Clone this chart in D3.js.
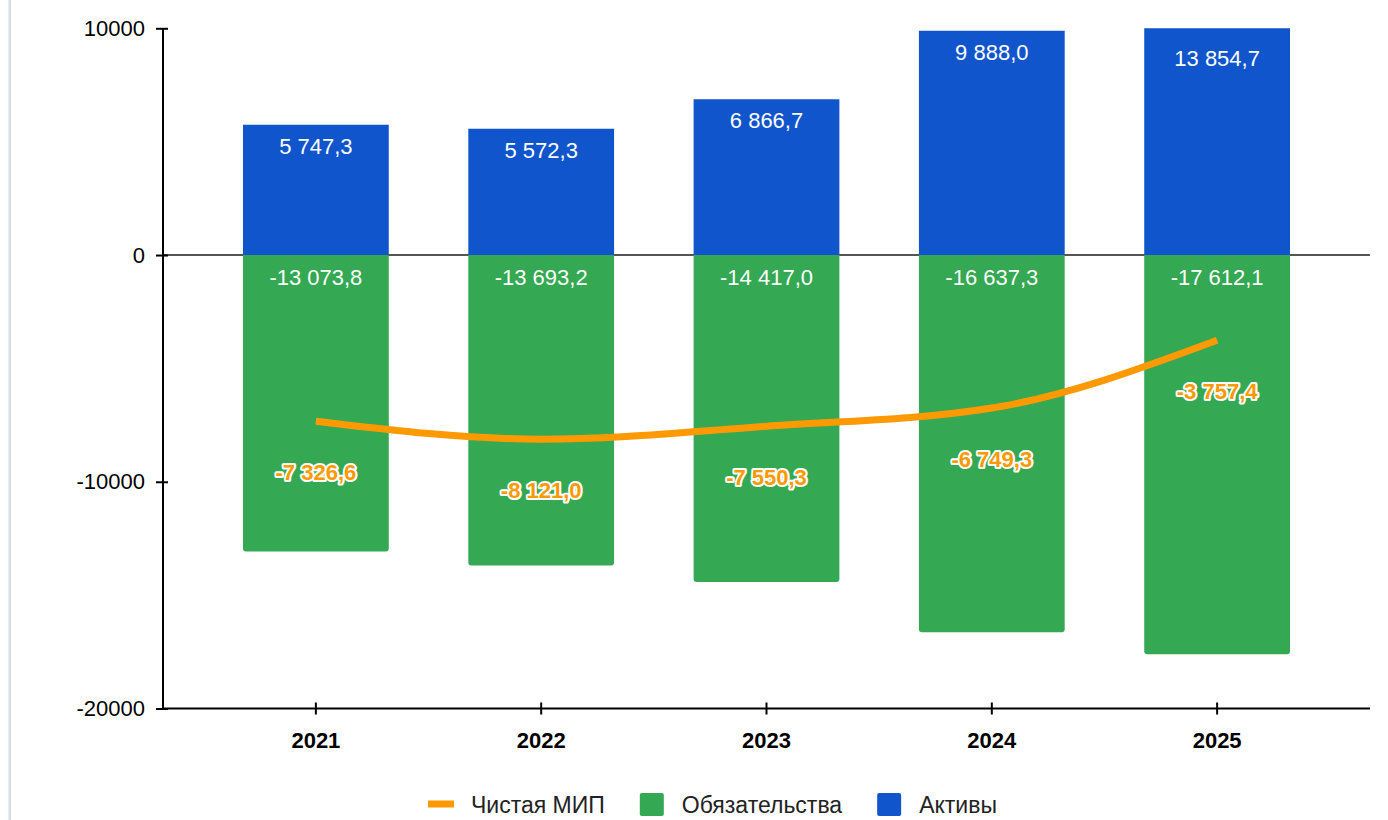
<!DOCTYPE html>
<html>
<head>
<meta charset="utf-8">
<script src="https://cdn.jsdelivr.net/npm/d3@7"></script>
<style>
  body { margin: 0; background: #fff; }
  svg text { font-family: Arial, "Liberation Sans", sans-serif; }
</style>
</head>
<body>
<div id="chart"></div>
<script>
//chart data
const years = ['2021', '2022', '2023', '2024', '2025'];
const assets = [5747.3, 5572.3, 6866.7, 9888.0, 13854.7];
const liabilities = [-13073.8, -13693.2, -14417.0, -16637.3, -17612.1];
const netMip = [-7326.6, -8121.0, -7550.3, -6749.3, -3757.4];
const yTicks = [-20000, -10000, 0, 10000];
const legendNames = ['Чистая МИП', 'Обязательства', 'Активы'];

//static svg variables
var svgWidth = 1388;
var svgHeight = 820;
var colors = { assets: '#1155cc', liab: '#34a853', net: '#ff9900' };

var svg = d3.select('#chart')
  .append('svg')
  .attr('width', svgWidth)
  .attr('height', svgHeight);

//thin page border on the left
svg.append('rect')
  .attr('x', 8.5).attr('y', 0)
  .attr('width', 2.5).attr('height', svgHeight)
  .attr('fill', '#d3dce8');

//russian number format: "5 747,3"
var ru = d3.formatLocale({ decimal: ',', thousands: '\u00a0', grouping: [3], currency: ['', ''], minus: '-' });
var fmt = ru.format(',.1f');

//scales
var x = d3.scaleBand()
  .domain(years)
  .range([163, 1370])
  .paddingInner(0.353)
  .paddingOuter(0.355);

var y = d3.scaleLinear()
  .domain([-20000, 10000])
  .range([708.5, 28.3])
  .clamp(true);

//zero line
svg.append('line')
  .attr('x1', 163).attr('x2', 1370)
  .attr('y1', y(0)).attr('y2', y(0))
  .attr('stroke', '#555')
  .attr('stroke-width', 2);

//bar path with rounded bottom corners for negative bars
function barPath(x0, w, v) {
  let top = y(Math.max(v, 0));
  let bot = y(Math.min(v, 0));
  if (v >= 0) {
    return `M${x0},${bot}V${top}H${x0 + w}V${bot}Z`;
  }
  let r = 3;
  return `M${x0},${top}V${bot - r}Q${x0},${bot} ${x0 + r},${bot}H${x0 + w - r}Q${x0 + w},${bot} ${x0 + w},${bot - r}V${top}Z`;
}

var barGroup = svg.append('g');

barGroup.selectAll('path.liab')
  .data(liabilities)
  .enter()
  .append('path')
  .attr('class', 'liab')
  .attr('d', (d, i) => barPath(x(years[i]), x.bandwidth(), d))
  .attr('fill', colors.liab);

barGroup.selectAll('path.assets')
  .data(assets)
  .enter()
  .append('path')
  .attr('class', 'assets')
  .attr('d', (d, i) => barPath(x(years[i]), x.bandwidth(), d))
  .attr('fill', colors.assets);

//bar labels
svg.selectAll('text.assetLabel')
  .data(assets)
  .enter()
  .append('text')
  .attr('class', 'assetLabel')
  .attr('x', (d, i) => x(years[i]) + x.bandwidth() / 2)
  .attr('y', d => y(d) + (d > y.domain()[1] ? 38 : 29))
  .attr('text-anchor', 'middle')
  .attr('font-size', 22)
  .attr('fill', '#fff')
  .text(d => fmt(d));

svg.selectAll('text.liabLabel')
  .data(liabilities)
  .enter()
  .append('text')
  .attr('class', 'liabLabel')
  .attr('x', (d, i) => x(years[i]) + x.bandwidth() / 2)
  .attr('y', y(0) + 30)
  .attr('text-anchor', 'middle')
  .attr('font-size', 22)
  .attr('fill', '#fff')
  .text(d => fmt(d));

//axes
var yAxis = d3.axisLeft(y).tickValues(yTicks).tickFormat(d => String(d)).tickSize(7).tickPadding(12);
var yG = svg.append('g')
  .attr('transform', 'translate(163,0)')
  .call(yAxis);
yG.select('.domain').attr('stroke', '#000').attr('stroke-width', 2).attr('d', `M0,${y(10000)}V${y(-20000)}`);
yG.selectAll('.tick line').attr('x1', 5).attr('x2', -7).attr('stroke', '#000').attr('stroke-width', 2);
yG.selectAll('.tick text').attr('x', -18).attr('font-size', 22).attr('fill', '#000')
  .attr('font-family', 'Arial, "Liberation Sans", sans-serif');

var xAxis = d3.axisBottom(x).tickSize(6).tickPadding(18);
var xG = svg.append('g')
  .attr('transform', `translate(0,${y(-20000)})`)
  .call(xAxis);
xG.select('.domain').attr('stroke', '#000').attr('stroke-width', 2).attr('d', 'M163,0H1370');
xG.selectAll('.tick line').attr('y1', -6).attr('y2', 6).attr('stroke', '#000').attr('stroke-width', 2);
xG.selectAll('.tick text').attr('y', 24).attr('dy', '0.71em').attr('font-size', 22).attr('font-weight', 'bold')
  .attr('fill', '#000').attr('font-family', 'Arial, "Liberation Sans", sans-serif');

//net line
var line = d3.line()
  .x((d, i) => x(years[i]) + x.bandwidth() / 2)
  .y(d => y(d))
  .curve(d3.curveMonotoneX);

svg.append('path')
  .datum(netMip)
  .attr('d', line)
  .attr('fill', 'none')
  .attr('stroke', colors.net)
  .attr('stroke-width', 7)
  .attr('stroke-linecap', 'butt');

svg.selectAll('text.netLabel')
  .data(netMip)
  .enter()
  .append('text')
  .attr('class', 'netLabel')
  .attr('x', (d, i) => x(years[i]) + x.bandwidth() / 2)
  .attr('y', d => y(d) + 59)
  .attr('text-anchor', 'middle')
  .attr('font-size', 22)
  .attr('font-weight', 'bold')
  .attr('fill', colors.net)
  .attr('stroke', '#fff')
  .attr('stroke-width', 4)
  .attr('stroke-linejoin', 'round')
  .attr('paint-order', 'stroke')
  .text(d => fmt(d));

//legend
var legend = svg.append('g').attr('transform', 'translate(428,804)');
var legendColors = [colors.net, colors.liab, colors.assets];
var lx = 0;
legendNames.forEach((name, i) => {
  let g = legend.append('g').attr('transform', `translate(${lx},0)`);
  if (i === 0) {
    g.append('rect').attr('x', 0).attr('y', -3.5).attr('width', 26).attr('height', 7).attr('fill', legendColors[i]);
  } else {
    g.append('rect').attr('x', 0).attr('y', -11).attr('width', 24).attr('height', 23).attr('rx', 2).attr('fill', legendColors[i]);
  }
  let tx = i === 0 ? 43 : 42;
  let t = g.append('text')
    .attr('x', tx)
    .attr('y', 8.5)
    .attr('font-size', 23)
    .attr('fill', '#222')
    .text(name);
  lx += tx + t.node().getComputedTextLength() + 35;
});
</script>
</body>
</html>
